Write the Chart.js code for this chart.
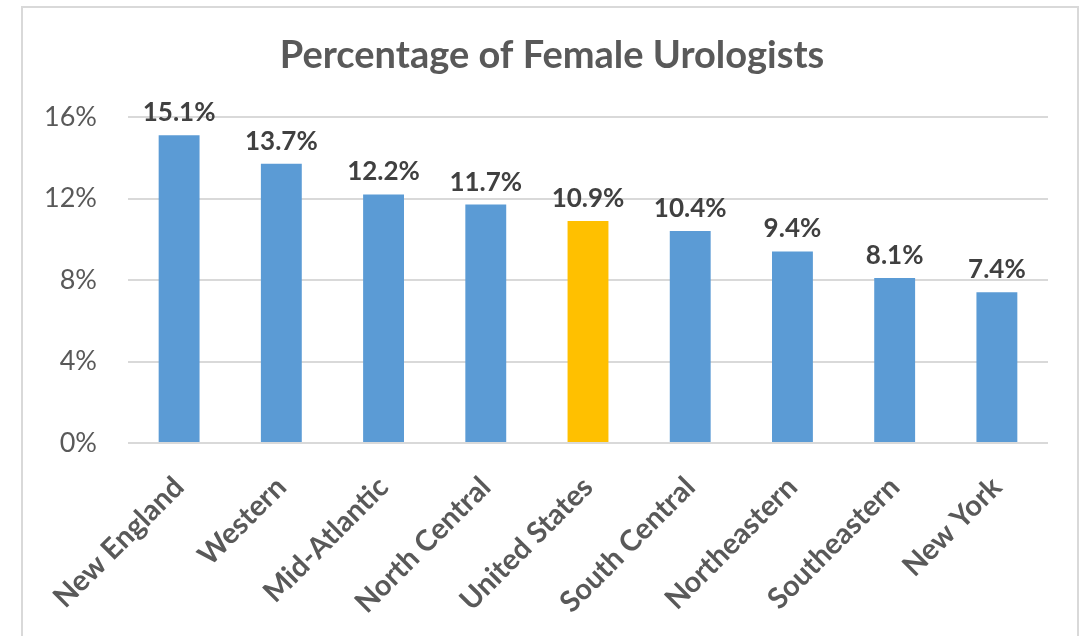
<!DOCTYPE html>
<html>
<head>
<meta charset="utf-8">
<script src="https://cdn.jsdelivr.net/npm/chart.js@4"></script>
<style>
  html, body { margin: 0; padding: 0; background: #fff; }
  #wrap { width: 1086px; height: 636px; }
</style>
</head>
<body>
<div id="wrap"><canvas id="myChart" width="1086" height="636"></canvas></div>
<script>
const regions = ['New England', 'Western', 'Mid-Atlantic', 'North Central', 'United States', 'South Central', 'Northeastern', 'Southeastern', 'New York'];
const percentFemale = [15.1, 13.7, 12.2, 11.7, 10.9, 10.4, 9.4, 8.1, 7.4];
const yTicks = [0, 4, 8, 12, 16];
const chartTitle = 'Percentage of Female Urologists';

const barColors = regions.map(r => r === 'United States' ? '#FFC000' : '#5B9BD5');

// frame around the chart plus the title centred on that frame
const framePlugin = {
    id: 'frame',
    beforeDraw(chart) {
        const c = chart.ctx;
        c.save();
        c.fillStyle = '#fff';
        c.fillRect(0, 0, chart.width, chart.height);
        c.strokeStyle = '#d9d9d9';
        c.lineWidth = 2;
        c.strokeRect(22, 7, 1056, 640);
        c.font = 'bold 38px Lato';
        c.fillStyle = '#595959';
        c.textAlign = 'center';
        c.textBaseline = 'middle';
        c.fillText(chartTitle, 552, 56);
        c.restore();
    }
};

// value labels above each bar
const valueLabels = {
    id: 'valueLabels',
    afterDatasetsDraw(chart) {
        const c = chart.ctx;
        const meta = chart.getDatasetMeta(0);
        c.save();
        c.font = 'bold 26px Lato';
        c.fillStyle = '#404040';
        c.textAlign = 'center';
        c.textBaseline = 'alphabetic';
        meta.data.forEach((bar, i) => {
            c.fillText(percentFemale[i].toFixed(1) + '%', bar.x, bar.y - 14);
        });
        c.restore();
    }
};

const ctx = document.getElementById('myChart').getContext('2d');

const myChart = new Chart(ctx, {
    type: 'bar',
    data: {
        labels: regions,
        datasets: [{
            label: 'Female urologists',
            data: percentFemale,
            backgroundColor: barColors,
            barPercentage: 0.4,
            categoryPercentage: 1.0
        }]
    },
    options: {
        responsive: false,
        animation: false,
        layout: {
            padding: { left: 0, right: 38, top: 117, bottom: 0 }
        },
        scales: {
            x: {
                grid: { display: false },
                border: { display: false },
                ticks: {
                    color: '#595959',
                    font: { family: 'Lato', size: 29, weight: 'bold' },
                    minRotation: 45,
                    maxRotation: 45,
                    padding: 19
                },
                afterFit(scale) { scale.height = 193; }
            },
            y: {
                min: 0,
                max: 16,
                afterBuildTicks(scale) { scale.ticks = yTicks.map(v => ({ value: v })); },
                grid: { color: '#d9d9d9', lineWidth: 2, drawTicks: false },
                border: { display: false },
                ticks: {
                    color: '#595959',
                    font: { family: 'Lato', size: 27 },
                    padding: 31,
                    callback: v => v + '%'
                },
                afterFit(scale) { scale.width = 128; }
            }
        },
        plugins: {
            legend: { display: false },
            tooltip: { enabled: false },
            title: { display: false }
        }
    },
    plugins: [framePlugin, valueLabels]
});
</script>
</body>
</html>
